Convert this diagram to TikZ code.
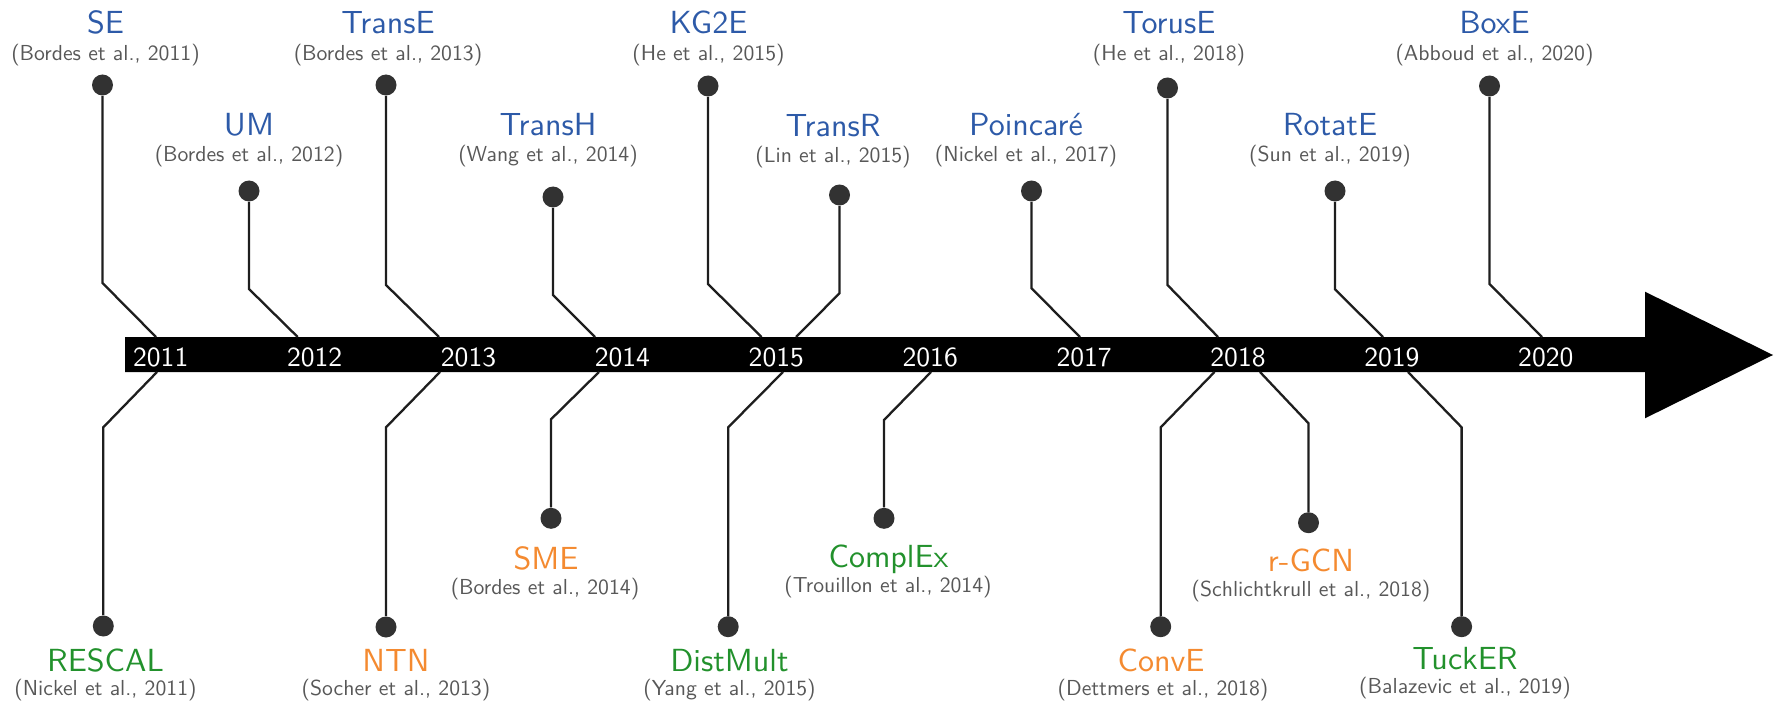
\documentclass[tikz,border=0pt]{standalone}
\usepackage{fontspec}
\setsansfont{lmsans10-regular.otf}
\usetikzlibrary{calc}

\definecolor{modelblue}{RGB}{45,90,168}
\definecolor{modelgreen}{RGB}{34,145,44}
\definecolor{modelorange}{RGB}{244,138,48}
\definecolor{citegray}{RGB}{88,88,88}
\definecolor{dotgray}{RGB}{50,50,50}
\definecolor{stemgray}{RGB}{30,30,30}

\tikzset{
  dotnode/.style={circle, fill=dotgray, draw=none, minimum size=10.5pt, inner sep=0pt},
  stem/.style={draw=stemgray, line width=1.15pt, line join=miter},
  modeltitle/.style={anchor=base, inner sep=0pt, font=\sffamily\fontsize{16}{19}\selectfont},
  modelcite/.style={anchor=base, inner sep=0pt, text=citegray, font=\sffamily\fontsize{10.85}{13}\selectfont},
  yearlabel/.style={anchor=base, inner sep=0pt, text=white, font=\sffamily\fontsize{13.8}{16}\selectfont},
}

% #1 name, #2 colour, #3 model, #4 reference,
% #5 point on the time axis, #6 bend, #7 dot, #8 title base, #9 reference base
\newcommand{\kgmodel}[9]{%
  \coordinate (#1-a) at #5;
  \coordinate (#1-b) at #6;
  \node[dotnode] (#1-dot) at #7 {};
  \draw[stem] (#1-a) -- (#1-b) -- (#1-dot);
  \node[modeltitle, text=#2] (#1-title) at #8 {#3};
  \node[modelcite] (#1-cite) at #9 {#4};
}

\begin{document}
\begin{tikzpicture}[x=0.5pt, y=-0.5pt]
\useasboundingbox (0,0) rectangle (1779,706);

% time axis
\fill[black] (125,337) -- (1645,337) -- (1645,291.7) -- (1773,355)
  -- (1645,418.3) -- (1645,372) -- (125,372) -- cycle;

\foreach \yr [count=\i from 0] in {2011,...,2020}
  \node[yearlabel] (y\yr) at ({160.7+153.9*\i},366.5) {\yr};

% models above the axis
\kgmodel{SE}{modelblue}{SE}{(Bordes et al., 2011)}
  {(156,337)}{(102.5,283)}{(102.5,85)}{(105.5,33.5)}{(105.5,61)}
\kgmodel{TransE}{modelblue}{TransE}{(Bordes et al., 2013)}
  {(439,337)}{(386,285)}{(386,85)}{(388,33.5)}{(388,61)}
\kgmodel{KGtwoE}{modelblue}{KG2E}{(He et al., 2015)}
  {(761.5,337)}{(708,284)}{(708,86)}{(708.5,33.5)}{(708.5,61)}
\kgmodel{TorusE}{modelblue}{TorusE}{(He et al., 2018)}
  {(1218,337)}{(1167.5,285)}{(1167.5,88)}{(1169,33.5)}{(1169,61)}
\kgmodel{BoxE}{modelblue}{BoxE}{(Abboud et al., 2020)}
  {(1542,337)}{(1489.5,284)}{(1489.5,86)}{(1494.5,33.5)}{(1494.5,61)}

\kgmodel{UM}{modelblue}{UM}{(Bordes et al., 2012)}
  {(297.7,337)}{(249,289)}{(249,191)}{(249,135.5)}{(249,161.5)}
\kgmodel{TransH}{modelblue}{TransH}{(Wang et al., 2014)}
  {(595,337)}{(553,295)}{(553,197)}{(548,135.5)}{(548,161.5)}
\kgmodel{TransR}{modelblue}{TransR}{(Lin et al., 2015)}
  {(796,337)}{(839.5,293.3)}{(839.5,195)}{(833,136.5)}{(833,162.5)}
\kgmodel{Poincare}{modelblue}{Poincaré}{(Nickel et al., 2017)}
  {(1080,337)}{(1031.5,288.3)}{(1031.5,191)}{(1026,135.5)}{(1026,161.5)}
\kgmodel{RotatE}{modelblue}{RotatE}{(Sun et al., 2019)}
  {(1383,337)}{(1335,289.3)}{(1335,191)}{(1330,135.5)}{(1330,161.5)}

% models below the axis
\kgmodel{RESCAL}{modelgreen}{RESCAL}{(Nickel et al., 2011)}
  {(157,372)}{(103.3,427.3)}{(103.3,626)}{(105.5,671)}{(105.5,695.5)}
\kgmodel{NTN}{modelorange}{NTN}{(Socher et al., 2013)}
  {(440,372)}{(386,427.3)}{(386,627)}{(396,671)}{(396,695.5)}
\kgmodel{DistMult}{modelgreen}{DistMult}{(Yang et al., 2015)}
  {(783,372)}{(728.2,427.3)}{(728.2,626.7)}{(729.5,671)}{(729.5,695.5)}
\kgmodel{ConvE}{modelorange}{ConvE}{(Dettmers et al., 2018)}
  {(1214.5,372)}{(1160.7,427.3)}{(1160.7,626.7)}{(1161,671)}{(1163,695.5)}
\kgmodel{TuckER}{modelgreen}{TuckER}{(Balazevic et al., 2019)}
  {(1408,372)}{(1461.6,427.3)}{(1461.6,626.7)}{(1465,669)}{(1465,693.5)}

\kgmodel{SME}{modelorange}{SME}{(Bordes et al., 2014)}
  {(599,372)}{(551,419.3)}{(551,518.3)}{(546,569.5)}{(545,594.5)}
\kgmodel{ComplEx}{modelgreen}{ComplEx}{(Trouillon et al., 2014)}
  {(931,372)}{(884,420)}{(884,518.3)}{(888.5,567)}{(888,592)}
\kgmodel{rGCN}{modelorange}{r-GCN}{(Schlichtkrull et al., 2018)}
  {(1260,372)}{(1308.5,423.3)}{(1308.5,522.7)}{(1311,571.5)}{(1311,596.5)}

\end{tikzpicture}
\end{document}
